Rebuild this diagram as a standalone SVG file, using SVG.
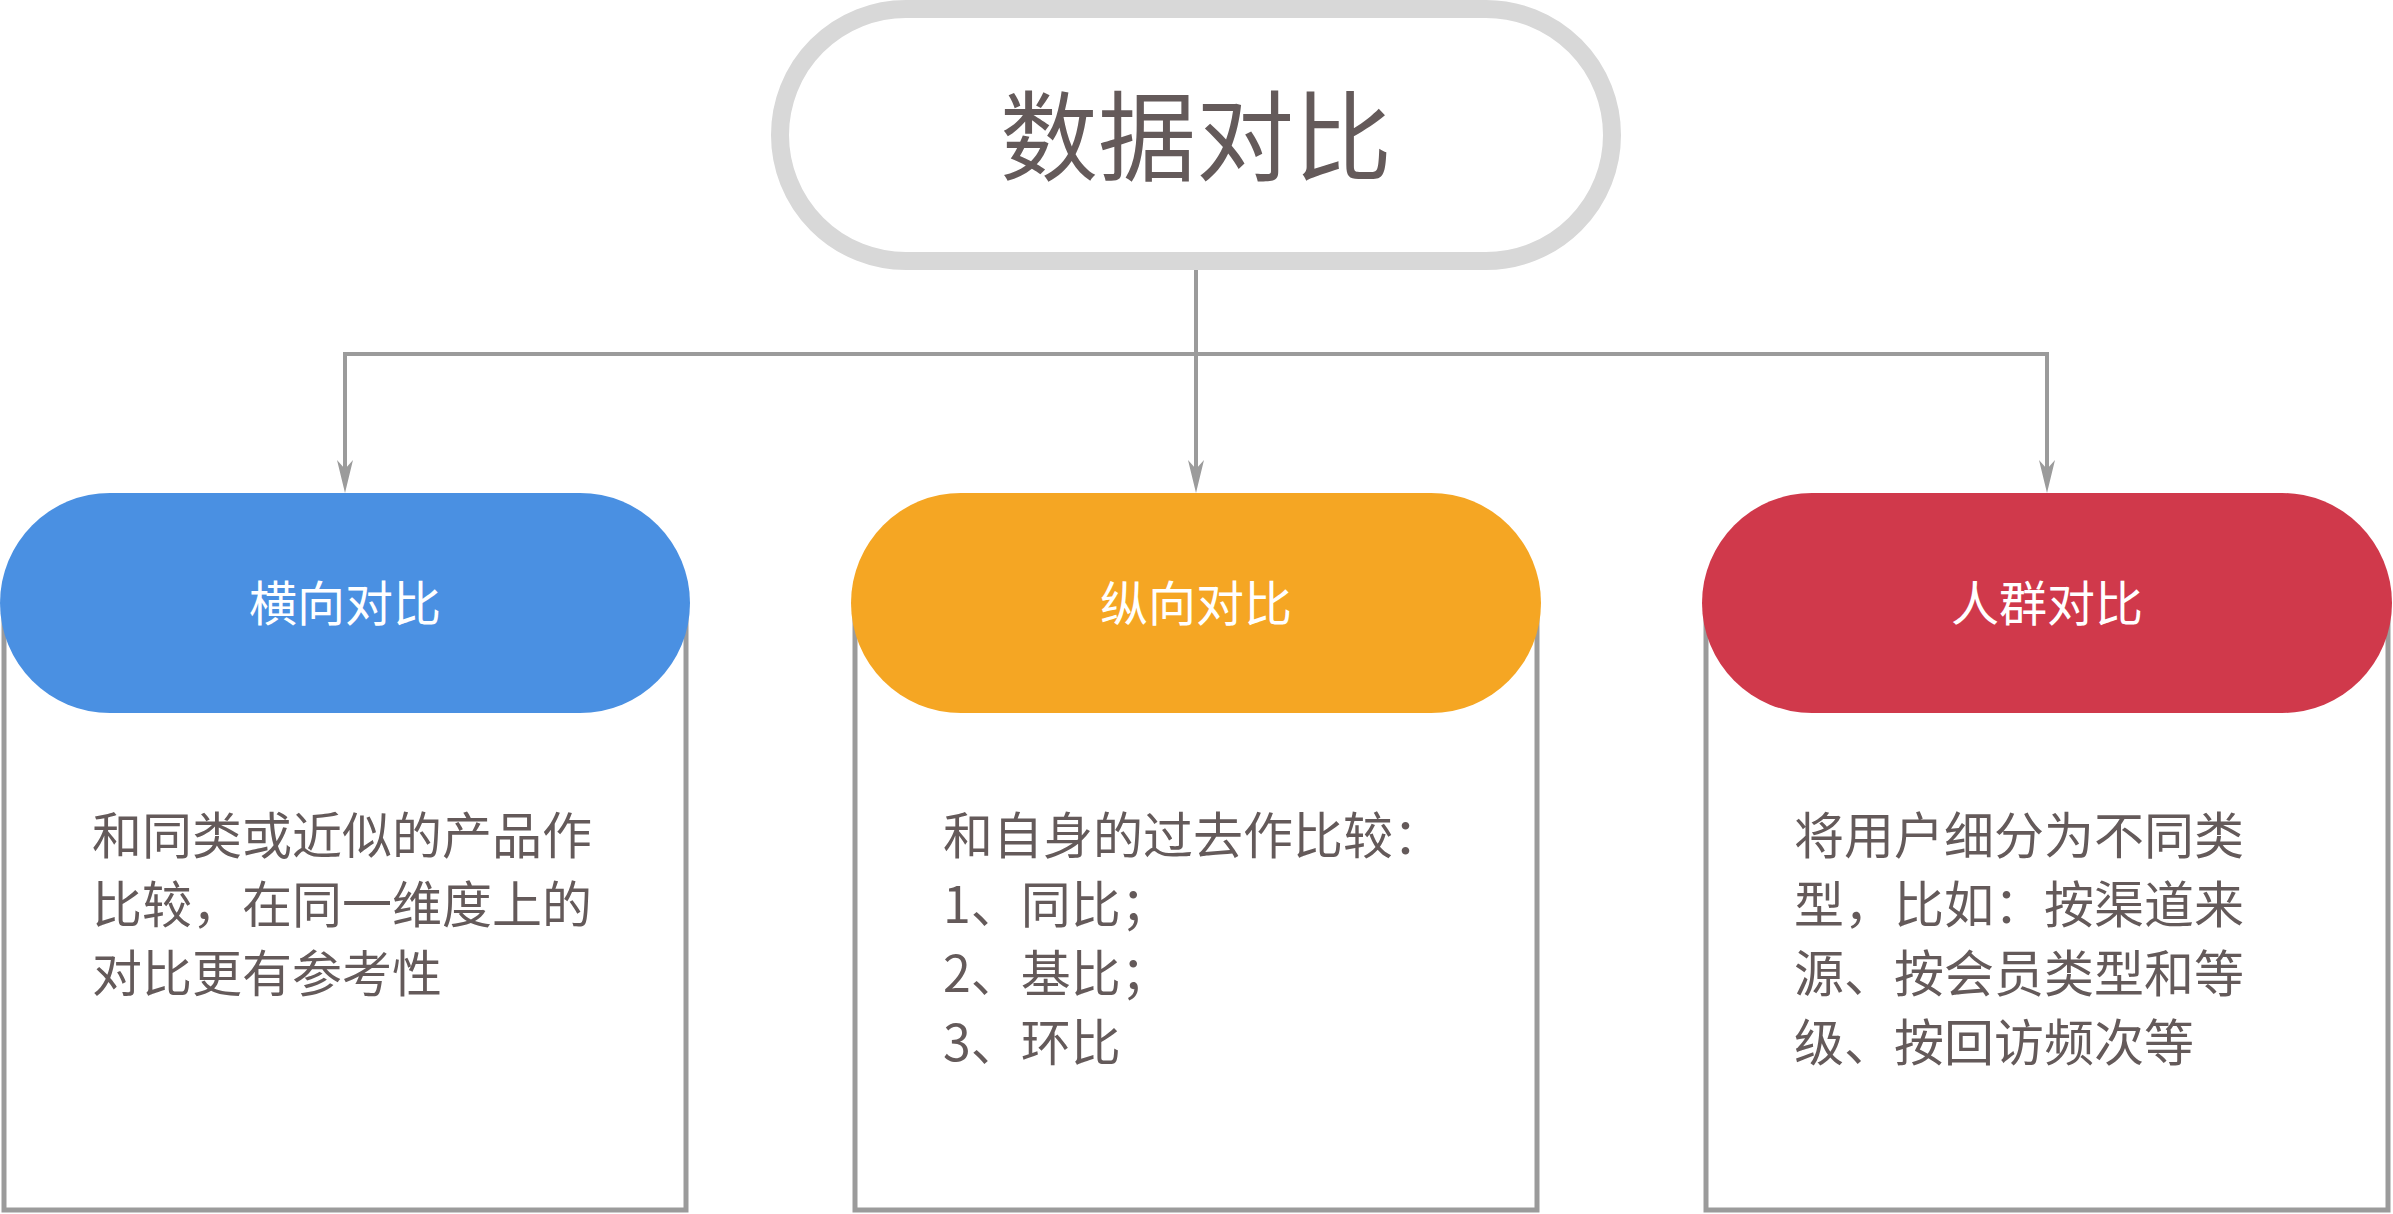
<svg xmlns="http://www.w3.org/2000/svg" width="2393" height="1214" viewBox="0 0 2393 1214">
<style>
.box{fill:#FFFFFF;stroke:#9B9B9B;stroke-width:5}
.pilltxt{font-family:"Noto Sans CJK SC","Noto Sans",sans-serif;font-size:48px;fill:#FFFFFF;text-anchor:middle}
.body{font-family:"Noto Sans CJK SC","Noto Sans",sans-serif;font-size:50px;fill:#645A5A}
.conn{fill:none;stroke:#9B9B9B;stroke-width:4}
</style>
<defs>
<marker id="arr" markerUnits="userSpaceOnUse" viewBox="-26 -10 36 20" refX="0" refY="0" markerWidth="36" markerHeight="20" orient="auto">
<path d="M8,0 L-25,-8 L-16,0 L-25,8 Z" fill="#9B9B9B"/>
</marker>
</defs>
<rect width="2393" height="1214" fill="#FFFFFF"/>
<g id="connectors">
<path class="conn" d="M1196,270 L1196,485" marker-end="url(#arr)"/>
<path class="conn" d="M1196,354 L345,354 L345,485" marker-end="url(#arr)"/>
<path class="conn" d="M1196,354 L2047,354 L2047,485" marker-end="url(#arr)"/>
</g>
<g id="root">
<rect x="780" y="9" width="832" height="252" rx="126" fill="#FFFFFF" stroke="#D8D8D8" stroke-width="18"/>
<text x="1196" y="173" font-family="'Noto Sans CJK SC','Noto Sans',sans-serif" font-size="98" fill="#645A5A" text-anchor="middle">数据对比</text>
</g>
<g id="horizontal">
<rect class="box" x="4" y="603" width="682" height="607"/>
<rect x="0" y="493" width="690" height="220" rx="110" fill="#4A90E2"/>
<text class="pilltxt" x="345" y="621">横向对比</text>
<text class="body" x="92" y="854">和同类或近似的产品作</text>
<text class="body" x="92" y="923">比较，在同一维度上的</text>
<text class="body" x="92" y="992">对比更有参考性</text>
</g>
<g id="vertical">
<rect class="box" x="855" y="603" width="682" height="607"/>
<rect x="851" y="493" width="690" height="220" rx="110" fill="#F5A623"/>
<text class="pilltxt" x="1196" y="621">纵向对比</text>
<text class="body" x="943" y="854">和自身的过去作比较：</text>
<text class="body" x="943" y="923">1、同比；</text>
<text class="body" x="943" y="992">2、基比；</text>
<text class="body" x="943" y="1061">3、环比</text>
</g>
<g id="crowd">
<rect class="box" x="1706" y="603" width="682" height="607"/>
<rect x="1702" y="493" width="690" height="220" rx="110" fill="#D0394B"/>
<text class="pilltxt" x="2047" y="621">人群对比</text>
<text class="body" x="1794" y="854">将用户细分为不同类</text>
<text class="body" x="1794" y="923">型，比如：按渠道来</text>
<text class="body" x="1794" y="992">源、按会员类型和等</text>
<text class="body" x="1794" y="1061">级、按回访频次等</text>
</g>
</svg>
